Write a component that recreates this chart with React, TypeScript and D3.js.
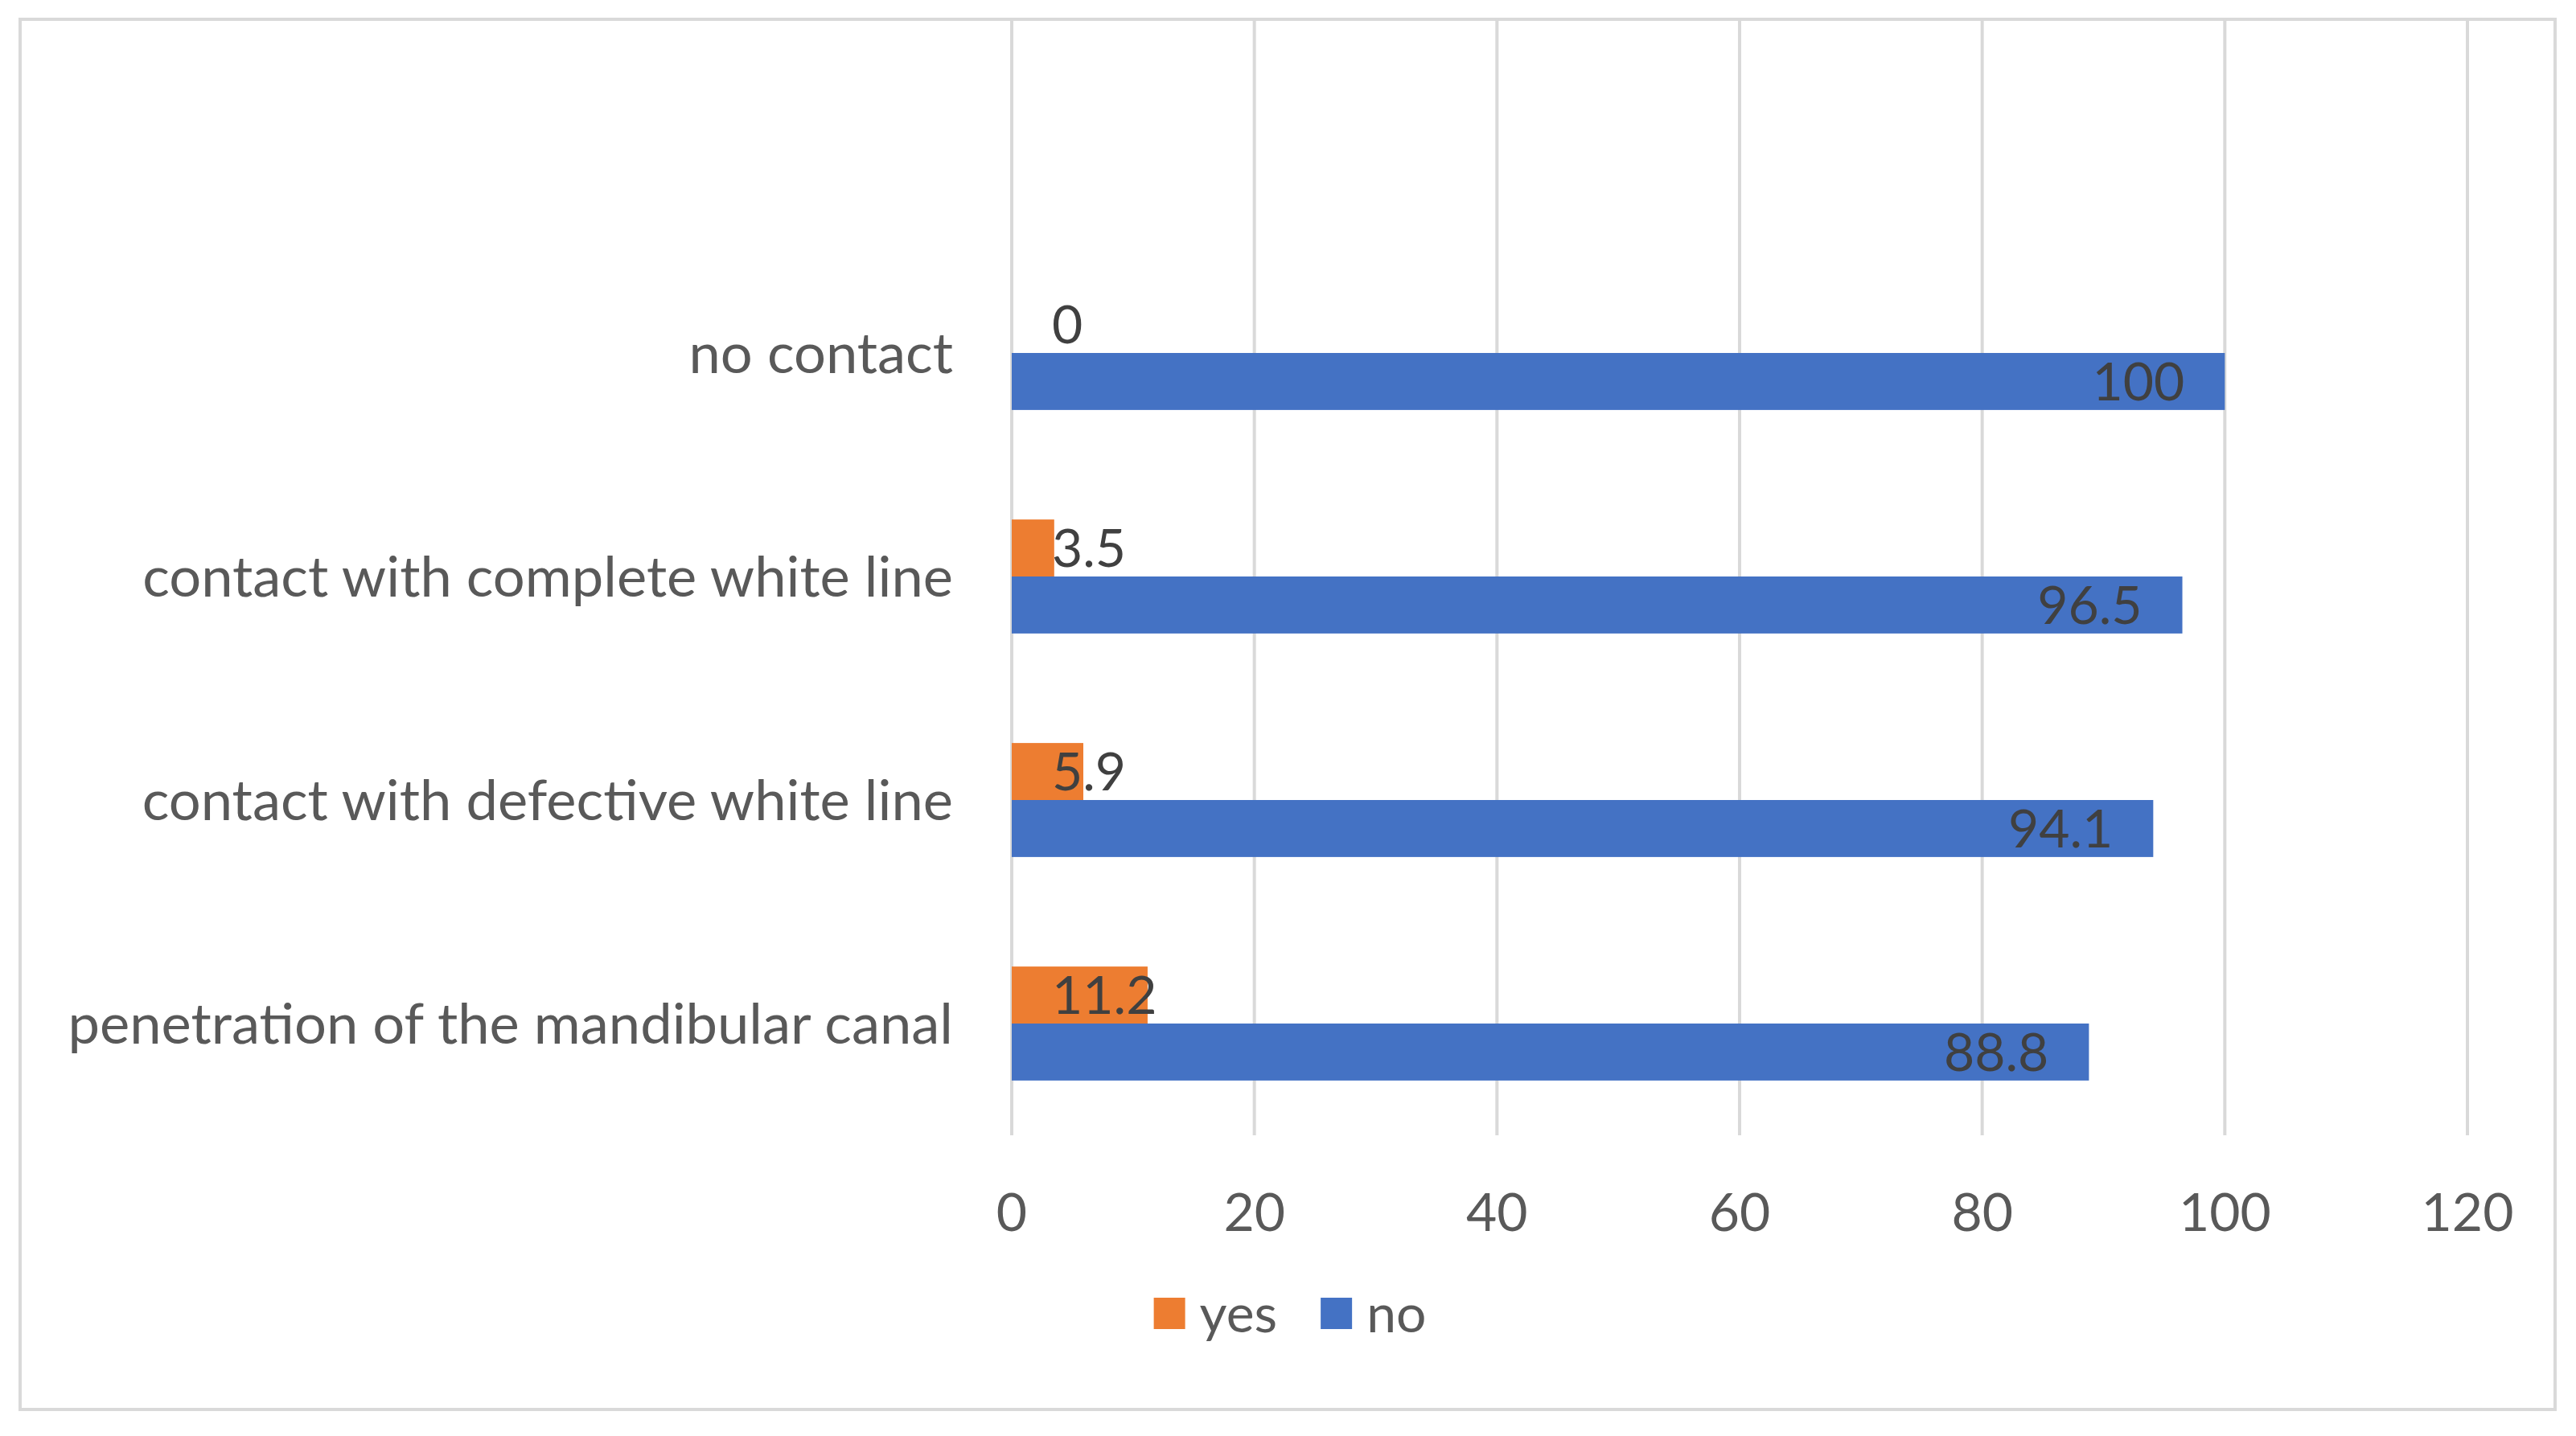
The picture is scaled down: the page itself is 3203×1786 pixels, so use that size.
import React, { useMemo } from 'react';
import * as d3 from 'd3';

// categories top → bottom, as drawn
const categories = [
  'no contact',
  'contact with complete white line',
  'contact with defective white line',
  'penetration of the mandibular canal',
];
const seriesNames = ['yes', 'no'];
const yesValues = [0, 3.5, 5.9, 11.2];
const noValues = [100, 96.5, 94.1, 88.8];
const xTicks = [0, 20, 40, 60, 80, 100, 120];

const COLORS: Record<string, string> = { yes: '#ED7D31', no: '#4472C4' };
const FONT = 'Lato, "Open Sans", sans-serif';
const W = 3203;
const H = 1786;

let ctx: CanvasRenderingContext2D | null = null;
function textWidth(s: string, size: number) {
  if (!ctx) ctx = document.createElement('canvas').getContext('2d');
  if (!ctx) return s.length * size * 0.5;
  ctx.font = `${size}px Lato`;
  return ctx.measureText(s).width;
}

export default function App() {
  const M = { top: 300, right: 135, bottom: 374, left: 1258 };
  const x = d3.scaleLinear().domain([0, 120]).range([M.left, W - M.right]);
  const y = d3.scaleBand<string>().domain(categories)
    .range([M.top, H - M.bottom]).paddingInner(0.49).paddingOuter(0.245);
  const ySub = d3.scaleBand<string>().domain(seriesNames).range([0, y.bandwidth()]);

  const rows = useMemo(() => categories.map((c, i) => ({
    cat: c,
    vals: [{ key: 'yes', v: yesValues[i] }, { key: 'no', v: noValues[i] }],
  })), []);

  const gridTop = 24;
  const gridBottom = H - M.bottom;
  const labelSize = 66;
  const catSize = 70.5;
  const pad = 50;

  const legendItems = seriesNames.map(s => ({ s, w: 39 + 18 + textWidth(s, labelSize) }));
  const legendGap = 54;
  const legendTotal = d3.sum(legendItems, d => d.w) + legendGap * (legendItems.length - 1);
  let lx = (25 + 3177) / 2 - legendTotal / 2 + 3;
  const legendPos = legendItems.map(d => { const p = lx; lx += d.w + legendGap; return { ...d, x: p }; });

  return (
    <svg width={W} height={H} style={{ position: 'absolute', left: 0, top: 0, background: '#fff' }}
      fontFamily={FONT}>
      <rect x={25} y={24} width={3152} height={1729} fill="#fff" stroke="#d9d9d9" strokeWidth={4} />

      {/* gridlines */}
      {xTicks.map(t => (
        <line key={t} x1={x(t)} x2={x(t)} y1={gridTop} y2={gridBottom} stroke="#d9d9d9" strokeWidth={4} />
      ))}

      {/* bars */}
      {rows.map(r => (
        <g key={r.cat} transform={`translate(0,${y(r.cat)})`}>
          {r.vals.map(d => (
            <rect key={d.key} x={x(0)} y={ySub(d.key)} width={x(d.v) - x(0)} height={ySub.bandwidth()}
              fill={COLORS[d.key]} />
          ))}
          {r.vals.map(d => {
            const label = String(d.v);
            const tw = textWidth(label, labelSize);
            const endX = x(d.v) - pad;
            const minStart = x(0) + 50;
            const startX = Math.max(minStart, endX - tw);
            return (
              <text key={d.key + 'l'} x={startX} y={(ySub(d.key) ?? 0) + ySub.bandwidth() / 2}
                dy="0.35em" fontSize={labelSize} fill="#404040">{label}</text>
            );
          })}
        </g>
      ))}

      {/* category labels */}
      {categories.map(c => (
        <text key={c} x={M.left - 73} y={(y(c) ?? 0) + y.bandwidth() / 2} dy="0.35em"
          textAnchor="end" fontSize={catSize} fill="#595959">{c}</text>
      ))}

      {/* x tick labels */}
      {xTicks.map(t => (
        <text key={t} x={x(t)} y={1508} dy="0.35em" textAnchor="middle" fontSize={labelSize} fill="#595959">{t}</text>
      ))}

      {/* legend */}
      {legendPos.map(d => (
        <g key={d.s} transform={`translate(${d.x},1614)`}>
          <rect width={39} height={39} fill={COLORS[d.s]} />
          <text x={57} y={19.5} dy="0.35em" fontSize={labelSize} fill="#595959">{d.s}</text>
        </g>
      ))}
    </svg>
  );
}
